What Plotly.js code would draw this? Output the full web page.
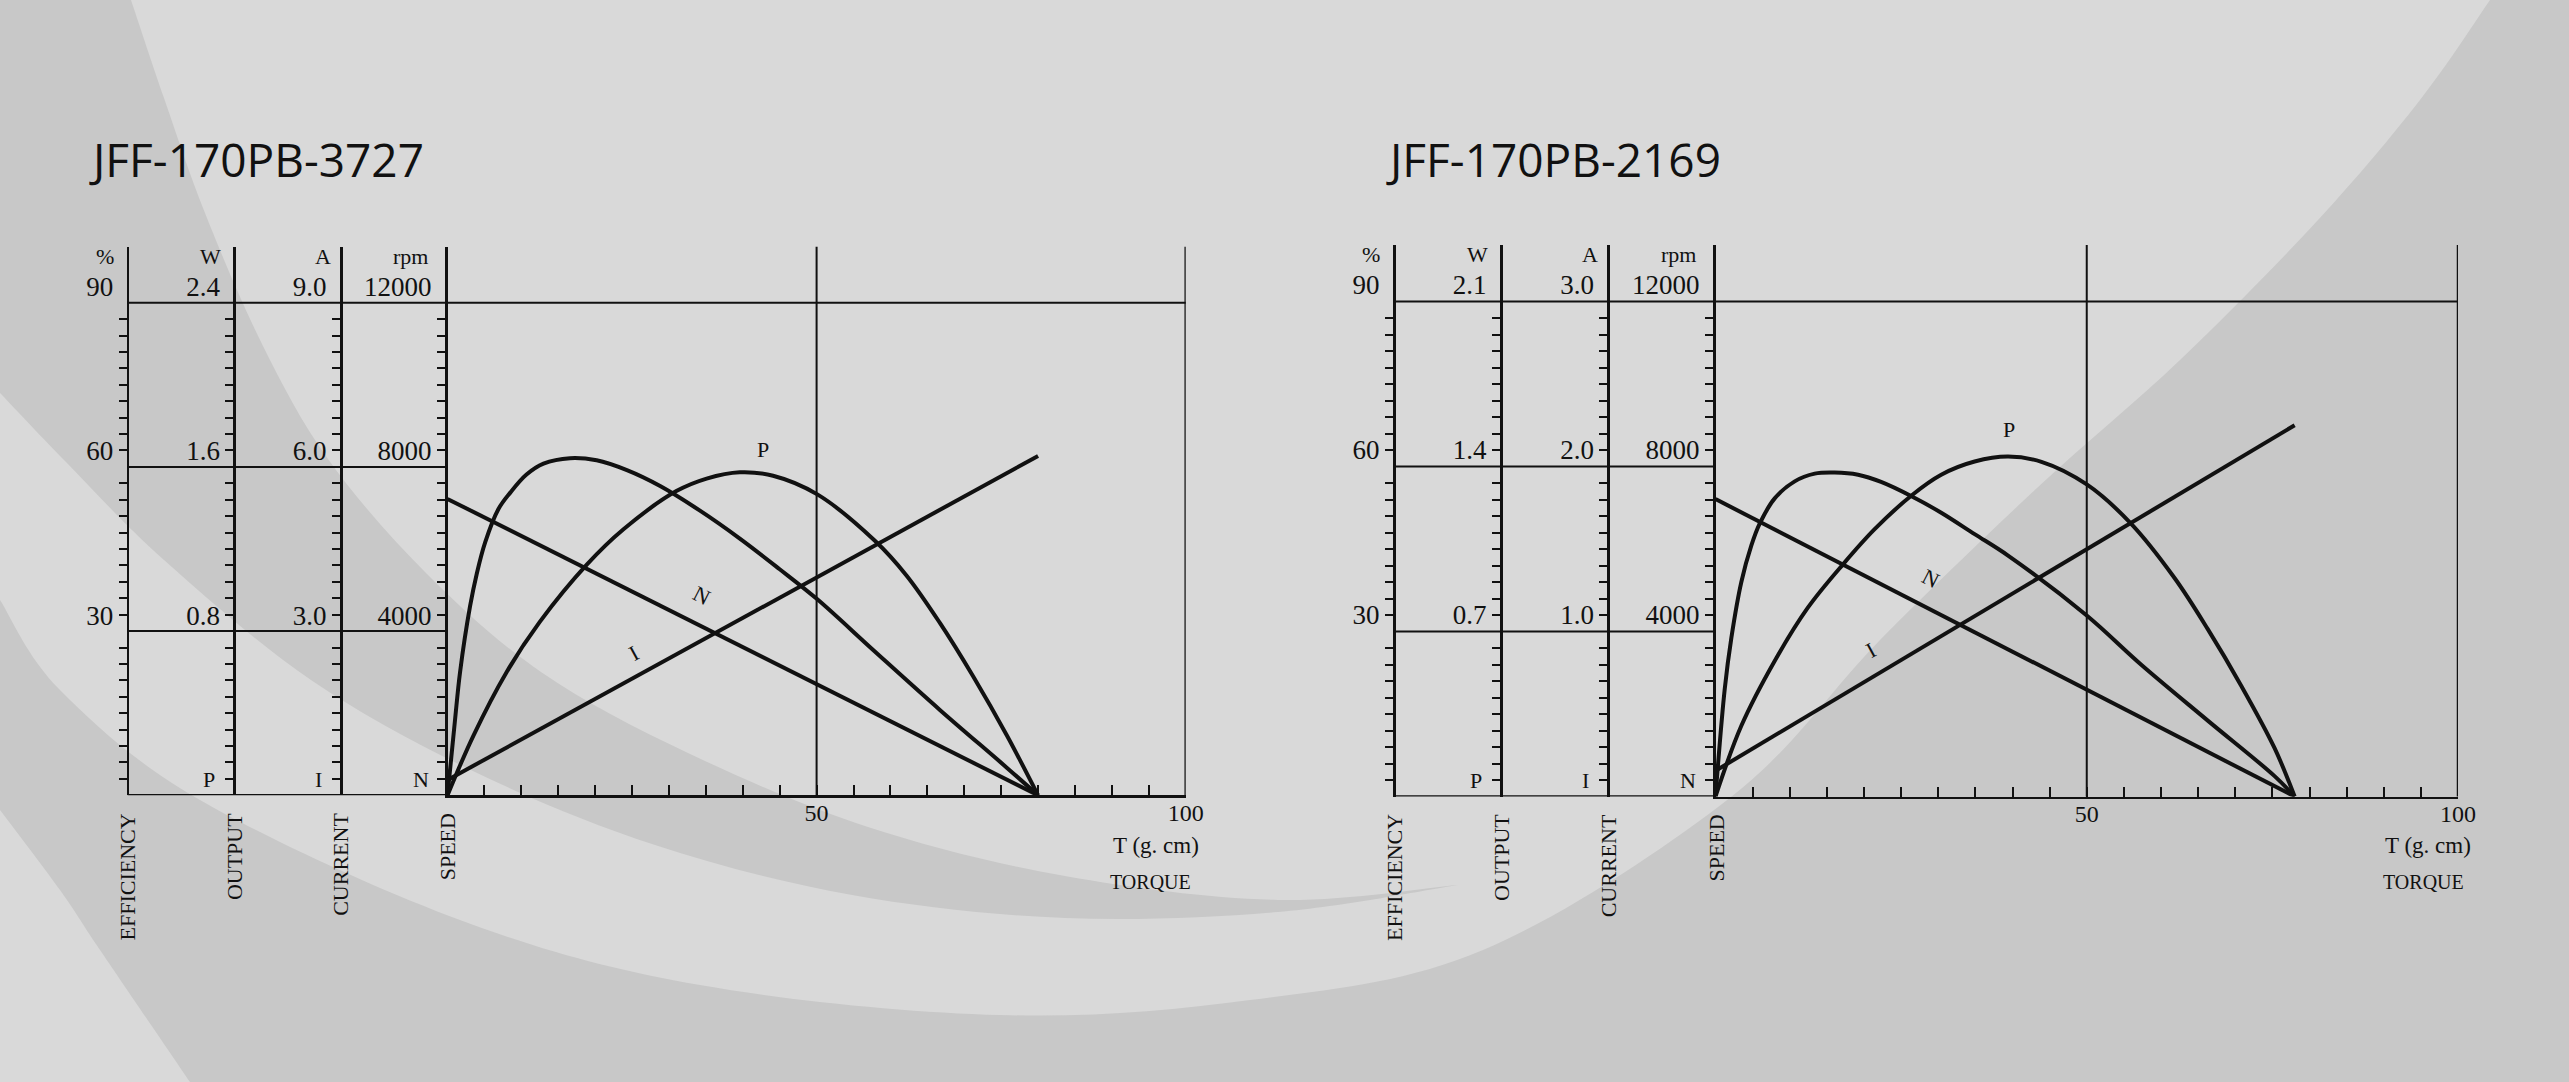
<!DOCTYPE html>
<html>
<head>
<meta charset="utf-8">
<script src="https://cdn.plot.ly/plotly-3.0.1.min.js"></script>
<style>
html,body{margin:0;padding:0;background:#d9d9d9;}
#chart{width:2569px;height:1082px;}
</style>
</head>
<body>
<div id="chart"></div>
<script>
// ================= DATA =================
// Chart A : JFF-170PB-3727
const titleA = "JFF-170PB-3727";
const lineTorqueA = [0, 80];                 // g.cm
const speedA = [7220, 0];                    // rpm  (N)
const currentA = [0.28, 6.2];                // A    (I)
const effTorqueA = [0, 1.0, 1.7, 3.05, 3.95, 5.1, 6.9, 8.5, 10.7, 13.0, 16.6, 20.2, 24.3, 28.8, 34.2, 39.6, 45.0, 50.1, 57.7, 66.7, 75.8, 80];
const efficiencyA = [0, 13.5, 22.5, 34.5, 40.4, 46.2, 52.3, 55.3, 58.6, 60.6, 61.6, 61.2, 59.4, 56.5, 52.0, 46.9, 41.3, 35.8, 26.5, 15.6, 5.0, 0]; // %
const outTorqueA = [0, 3.5, 8.0, 12.5, 18.9, 23.8, 31.0, 35.1, 39.6, 44.1, 50.1, 57.9, 62.2, 66.7, 71.2, 75.8, 80];
const outputA = [0, 0.29, 0.60, 0.845, 1.125, 1.295, 1.482, 1.543, 1.574, 1.557, 1.466, 1.24, 1.07, 0.84, 0.58, 0.29, 0]; // W
const effTicksA = ["30", "60", "90"];
const outTicksA = ["0.8", "1.6", "2.4"];
const curTicksA = ["3.0", "6.0", "9.0"];
const spdTicksA = ["4000", "8000", "12000"];

// Chart B : JFF-170PB-2169
const titleB = "JFF-170PB-2169";
const lineTorqueB = [0, 78];
const speedB = [7210, 0];
const currentB = [0.156, 2.25];
const effTorqueB = [0, 1.24, 2.13, 3.48, 4.82, 5.95, 7.97, 10.67, 13.36, 16.05, 19.2, 22.3, 26.4, 30.4, 34.9, 39.4, 50.0, 57.3, 66.3, 75.3, 78];
const efficiencyB = [0, 19.5, 28.8, 39.0, 45.6, 49.6, 54.2, 57.3, 58.7, 58.9, 58.5, 57.2, 54.6, 51.6, 47.7, 43.8, 32.9, 24.0, 13.8, 3.7, 0];
const outTorqueB = [0, 3.48, 7.97, 12.46, 17.2, 21.4, 26.4, 30.4, 34.9, 39.4, 43.9, 50.0, 55.8, 61.8, 66.3, 70.8, 75.3, 78];
const outputB = [0, 0.30, 0.575, 0.802, 0.986, 1.133, 1.277, 1.365, 1.421, 1.442, 1.42, 1.324, 1.163, 0.928, 0.71, 0.47, 0.205, 0];
const effTicksB = ["30", "60", "90"];
const outTicksB = ["0.7", "1.4", "2.1"];
const curTicksB = ["1.0", "2.0", "3.0"];
const spdTicksB = ["4000", "8000", "12000"];

const torqueTicks = ["50", "100"];
const unitLabels = ["%", "W", "A", "rpm"];
const axisNames = ["EFFICIENCY", "OUTPUT", "CURRENT", "SPEED"];
const baseLabels = ["P", "I", "N"];

// ================= LAYOUT HELPERS =================
const W = 2569, H = 1082;
const SERIF = "Liberation Serif, Times New Roman, serif";
const INK = "#111111";
const px = x => x / W;
const py = y => 1 - y / H;

// geometry of the two panels (pixels)
const geoms = [
  {xe: 127.7, xw: 234.3, xa: 341.0, xs: 447.5, xr: 1185.7, yb: 795.3, ytop: 246.7, tick: 16.42, titleX: 87},
  {xe: 1394.0, xw: 1501.0, xa: 1608.3, xs: 1715.5, xr: 2458.0, yb: 796.5, ytop: 245.0, tick: 16.5, titleX: 1384}
];
geoms.forEach(g => { g.ktop = (g.yb - g.ytop) / g.tick; });

const minorK = [];
for (let k = 1; k < 30; k++) if (k % 10 !== 0) minorK.push(k);

function yAxis(g, step, labels, extra) {
  return Object.assign({
    domain: [py(g.yb), py(g.ytop)],
    range: [0, g.ktop * step],
    showline: true, linewidth: 2.5, linecolor: INK,
    showgrid: false, zeroline: false, fixedrange: true,
    tickmode: "array", tickvals: labels.map(Number), ticktext: labels,
    ticks: "outside", ticklen: 8, tickwidth: 2, tickcolor: "rgba(0,0,0,0)",
    ticklabelshift: -Math.round(g.tick),
    minor: {tickmode: "array", tickvals: minorK.map(k => k * step), ticks: "outside", ticklen: 8, tickwidth: 2, tickcolor: INK},
    tickfont: {family: SERIF, size: 27, color: INK},
    side: "left"
  }, extra);
}
function xAxis(g, yid) {
  return {
    domain: [px(g.xs), px(g.xr)], range: [0, 100], anchor: yid,
    showline: true, linewidth: 2.5, linecolor: INK,
    showgrid: false, zeroline: false, fixedrange: true,
    tickmode: "array", tickvals: torqueTicks.map(Number), ticktext: torqueTicks,
    ticks: "inside", ticklen: 10, tickwidth: 2, tickcolor: INK,
    ticklabelstandoff: -6,
    minor: {tickmode: "linear", tick0: 0, dtick: 5, ticks: "inside", ticklen: 10, tickwidth: 2, tickcolor: INK},
    tickfont: {family: SERIF, size: 24, color: INK}
  };
}

const panels = [
  {g: geoms[0], x: "x", ys: ["y", "y2", "y3", "y4"], steps: [400, 3, 0.08, 0.3],
   ticks: [spdTicksA, effTicksA, outTicksA, curTicksA], title: titleA,
   lt: lineTorqueA, spd: speedA, cur: currentA, et: effTorqueA, eff: efficiencyA, ot: outTorqueA, out: outputA,
   lab: {P: [763, 449], N: [702, 595], I: [633, 653]}},
  {g: geoms[1], x: "x2", ys: ["y5", "y6", "y7", "y8"], steps: [400, 3, 0.07, 0.1],
   ticks: [spdTicksB, effTicksB, outTicksB, curTicksB], title: titleB,
   lt: lineTorqueB, spd: speedB, cur: currentB, et: effTorqueB, eff: efficiencyB, ot: outTorqueB, out: outputB,
   lab: {P: [2009, 429], N: [1931, 578], I: [1870, 650]}}
];

const layout = {
  width: W, height: H, margin: {l: 0, r: 0, t: 0, b: 0},
  paper_bgcolor: "#d9d9d9", plot_bgcolor: "rgba(0,0,0,0)",
  showlegend: false, shapes: [], annotations: [], hovermode: false
};
const traces = [];
const axKey = id => (id.startsWith("x") ? "xaxis" : "yaxis") + id.slice(1);

function ann(text, x, y, opt) {
  return Object.assign({text: text, xref: "paper", yref: "paper", x: px(x), y: py(y),
    showarrow: false, xanchor: "center", yanchor: "middle",
    font: {family: SERIF, size: 22, color: INK}}, opt || {});
}

panels.forEach(p => {
  const g = p.g;
  const [ys, ye, yo, yc] = p.ys;
  layout[axKey(p.x)] = xAxis(g, ys);
  layout[axKey(ys)] = yAxis(g, p.steps[0], p.ticks[0], {anchor: p.x});
  layout[axKey(ye)] = yAxis(g, p.steps[1], p.ticks[1], {overlaying: ys, anchor: "free", position: px(g.xe)});
  layout[axKey(yo)] = yAxis(g, p.steps[2], p.ticks[2], {overlaying: ys, anchor: "free", position: px(g.xw)});
  layout[axKey(yc)] = yAxis(g, p.steps[3], p.ticks[3], {overlaying: ys, anchor: "free", position: px(g.xa)});

  const ln = {color: INK, width: 4};
  traces.push({type: "scatter", mode: "lines", x: p.lt, y: p.spd, xaxis: p.x, yaxis: ys, line: ln, hoverinfo: "skip"});
  traces.push({type: "scatter", mode: "lines", x: p.lt, y: p.cur, xaxis: p.x, yaxis: yc, line: ln, hoverinfo: "skip"});
  traces.push({type: "scatter", mode: "lines", x: p.et, y: p.eff, xaxis: p.x, yaxis: ye, line: Object.assign({shape: "spline", smoothing: 1}, ln), hoverinfo: "skip"});
  traces.push({type: "scatter", mode: "lines", x: p.ot, y: p.out, xaxis: p.x, yaxis: yo, line: Object.assign({shape: "spline", smoothing: 1}, ln), hoverinfo: "skip"});

  const s = p.steps[0];
  const hl = (y, x0, x1, w) => ({type: "line", xref: "paper", yref: ys, x0: px(x0), x1: px(x1), y0: y, y1: y, line: {color: INK, width: w}});
  layout.shapes.push(hl(30 * s, g.xe, g.xr, 2));
  layout.shapes.push(hl(20 * s, g.xe, g.xs, 2));
  layout.shapes.push(hl(10 * s, g.xe, g.xs, 2));
  layout.shapes.push(hl(0, g.xe, g.xs, 2.5));
  layout.shapes.push({type: "line", xref: p.x, yref: ys + " domain", x0: 50, x1: 50, y0: 0, y1: 1, line: {color: INK, width: 2}});
  layout.shapes.push({type: "line", xref: p.x, yref: ys + " domain", x0: 100, x1: 100, y0: 0, y1: 1, line: {color: INK, width: 2.5}});

  const colX = [g.xe, g.xw, g.xa, g.xs];
  const unitX = [g.xe - 23, g.xw - 24, g.xa - 18, g.xs - 37];
  unitLabels.forEach((t, i) => layout.annotations.push(ann(t, unitX[i], g.ytop + 10, {font: {family: SERIF, size: 22, color: INK}})));
  axisNames.forEach((t, i) => layout.annotations.push(ann(t, colX[i], g.yb + 16, {textangle: -90, yanchor: "top", font: {family: SERIF, size: 22, color: INK}})));
  baseLabels.forEach((t, i) => layout.annotations.push(ann(t, colX[i + 1] - 17, g.yb - 16, {xanchor: "right", font: {family: SERIF, size: 22, color: INK}})));
  layout.annotations.push(ann("T (g. cm)", g.xr - 30, 845, {font: {family: SERIF, size: 23, color: INK}}));
  layout.annotations.push(ann("TORQUE", g.xr - 35, 882, {font: {family: SERIF, size: 20, color: INK}}));
  layout.annotations.push(ann("P", p.lab.P[0], p.lab.P[1], {font: {family: SERIF, size: 22, color: INK}}));
  layout.annotations.push(ann("N", p.lab.N[0], p.lab.N[1], {textangle: 27, font: {family: SERIF, size: 22, color: INK}}));
  layout.annotations.push(ann("I", p.lab.I[0], p.lab.I[1], {textangle: -29, font: {family: SERIF, size: 22, color: INK}}));
  layout.annotations.push(ann(p.title, g.titleX, 159, {xanchor: "left", font: {family: "Open Sans, Noto Sans, sans-serif", size: 46, color: INK}}));
});

// ================= BACKGROUND SWOOSHES =================
function curveCmds(pts) {
  let d = "";
  for (let i = 0; i < pts.length - 1; i++) {
    const p0 = pts[i - 1] || pts[i], p1 = pts[i], p2 = pts[i + 1], p3 = pts[i + 2] || p2;
    const c1 = [p1[0] + (p2[0] - p0[0]) / 6, p1[1] + (p2[1] - p0[1]) / 6];
    const c2 = [p2[0] - (p3[0] - p1[0]) / 6, p2[1] - (p3[1] - p1[1]) / 6];
    d += ` C${px(c1[0])},${py(c1[1])} ${px(c2[0])},${py(c2[1])} ${px(p2[0])},${py(p2[1])}`;
  }
  return d;
}
function bgPath(parts) {
  let d = "";
  parts.forEach((c, idx) => {
    d += (idx === 0 ? "M" : " L") + `${px(c[0][0])},${py(c[0][1])}`;
    if (c.length > 1) d += curveCmds(c);
  });
  return d + " Z";
}
const DARK = "#c8c8c8";
const bg = (path) => ({type: "path", xref: "paper", yref: "paper", path: path, fillcolor: DARK, line: {width: 0}, layer: "below"});
layout.shapes.unshift(
  // upper-left swoosh
  bg(bgPath([
    [[131, 0], [164, 98], [205, 213], [262, 344], [328, 459], [426, 573], [541, 672], [688, 753], [868, 827], [1065, 876], [1278, 900], [1458, 885]],
    [[1458, 885], [1278, 912], [1065, 918], [852, 895], [655, 845], [475, 772], [311, 680], [164, 560], [66, 462], [0, 393]],
    [[0, 0]]
  ])),
  // big lower / right region
  bg(bgPath([
    [[0, 600], [60, 690], [200, 800], [460, 920], [700, 985], [1000, 1015], [1250, 1000], [1483, 950], [1731, 797], [1880, 640], [2037, 488], [2180, 360], [2318, 220], [2420, 100], [2490, 0]],
    [[2569, 0]], [[2569, 1082]],
    [[190, 1082], [100, 950], [60, 890], [0, 810]]
  ]))
);

Plotly.newPlot("chart", traces, layout, {displayModeBar: false, staticPlot: true});
</script>
</body>
</html>
